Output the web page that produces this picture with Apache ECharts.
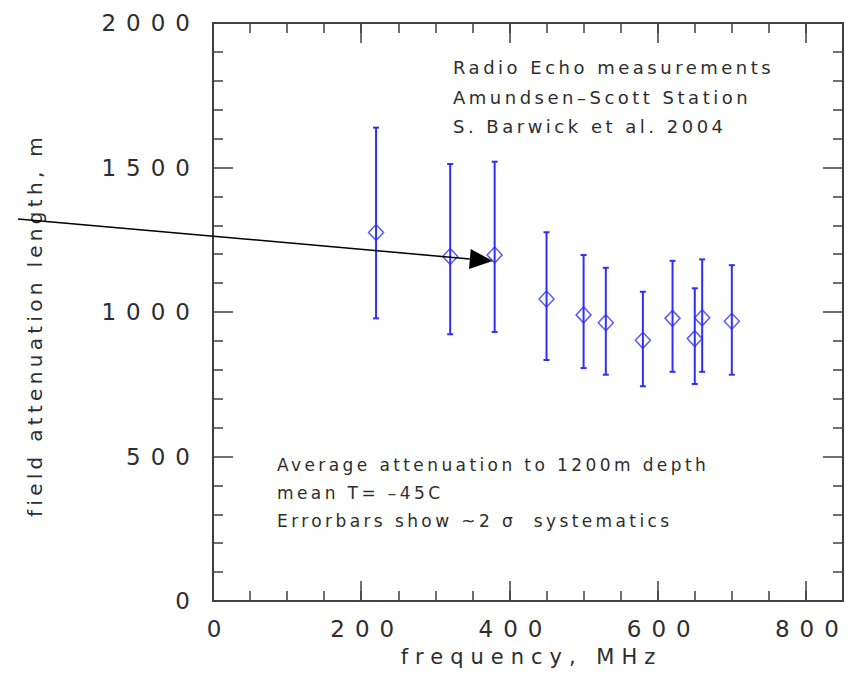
<!DOCTYPE html>
<html>
<head>
<meta charset="utf-8">
<script src="https://cdn.jsdelivr.net/npm/echarts@6/dist/echarts.min.js"></script>
<style>
  html, body { margin: 0; padding: 0; background: #fff; }
  #chart { width: 854px; height: 678px; }
  /* old postscript lettering is very wide: svg text takes css letter-spacing */
  #chart text[style*="23px"] { letter-spacing: 10px; }
  #chart text[style*="21px"] { letter-spacing: 7px; }
  #chart text[style*="20px"] { letter-spacing: 4.3px; }
  #chart text[style*="18px"] { letter-spacing: 3.5px; }
  #chart text[style*="17px"] { letter-spacing: 3.4px; }
</style>
</head>
<body>
<div id="chart"></div>
<script>
// radio echo measurements, frequency (MHz) vs field attenuation length (m)
const frequency = [220, 320, 380, 450, 500, 530, 580, 620, 650, 660, 700];
const attenuation = [1275, 1192, 1197, 1045, 990, 963, 902, 978, 908, 980, 968];
const errLow = [978, 923, 931, 834, 806, 783, 743, 793, 751, 793, 783];
const errHigh = [1638, 1512, 1520, 1276, 1197, 1153, 1070, 1177, 1082, 1182, 1162];

// arrow annotation (data units), tail off to the left of the plot
const arrowTail = [-263, 1322];
const arrowHead = [362, 1180];

const noteTop = ['Radio Echo measurements', 'Amundsen\u2013Scott Station', 'S. Barwick et al. 2004'];
const noteBottom = ['Average attenuation to 1200m depth', 'mean T= \u201345C', 'Errorbars show ~2 \u03c3  systematics'];

const BLUE = '#2f2ff6';
const AXIS = '#404040';
const TEXT = '#2e2e2e';
const FONT = 'DejaVu Sans';

const chart = echarts.init(document.getElementById('chart'), null, { renderer: 'svg' });

const frame = (extra) => Object.assign({
  type: 'value',
  splitLine: { show: false },
  axisLine: { show: true, onZero: false, lineStyle: { color: AXIS, width: 2 } },
  axisTick: { show: true, inside: true, length: 20, lineStyle: { color: AXIS, width: 1.5 } },
  axisLabel: { show: false },
}, extra);

const minorX = (position) => frame({
  position, min: 0, max: 850, interval: 50,
  axisLine: { show: false, onZero: false },
  axisTick: { show: true, inside: true, length: 10, lineStyle: { color: AXIS, width: 1.5 } },
});

const yMinor = { show: true, splitNumber: 5, length: 10, lineStyle: { color: AXIS, width: 1.5 } };

const option = {
  animation: false,
  textStyle: { fontFamily: FONT },
  grid: { left: 213, right: 11, top: 23, bottom: 77, containLabel: false, outerBoundsMode: 'none' },
  xAxis: [
    frame({
      position: 'bottom', min: 0, max: 850, interval: 200,
      name: 'frequency, MHz', nameLocation: 'middle', nameGap: 45,
      nameTextStyle: { fontSize: 21, color: TEXT, fontFamily: FONT, padding: [0, 0, 0, 7] },
      axisLabel: {
        show: true, margin: 16, fontSize: 23, color: TEXT, fontFamily: FONT,
        showMaxLabel: false, padding: [0, 0, 0, 12],
      },
    }),
    minorX('bottom'),
    frame({ position: 'top', min: 0, max: 850, interval: 200 }),
    minorX('top'),
  ],
  yAxis: [
    frame({
      position: 'left', min: 0, max: 2000, interval: 500,
      minorTick: yMinor,
      name: 'field attenuation length, m', nameLocation: 'middle', nameGap: 168,
      nameTextStyle: { fontSize: 20, color: TEXT, fontFamily: FONT, padding: [0, 26, 0, 0] },
      axisLabel: {
        show: true, margin: 13, fontSize: 23, color: TEXT, fontFamily: FONT,
        formatter: (v) => String(v),
      },
    }),
    frame({ position: 'right', min: 0, max: 2000, interval: 500, minorTick: yMinor }),
  ],
  series: [
    {
      name: 'errorbars',
      type: 'custom',
      xAxisIndex: 0,
      yAxisIndex: 0,
      data: frequency.map((f, i) => [f, errLow[i], errHigh[i]]),
      encode: { x: 0, y: [1, 2] },
      renderItem: (params, api) => {
        const x = api.value(0);
        const lo = api.coord([x, api.value(1)]);
        const hi = api.coord([x, api.value(2)]);
        const cap = 3;
        const style = { stroke: BLUE, lineWidth: 2 };
        return {
          type: 'group',
          children: [
            { type: 'line', shape: { x1: lo[0], y1: lo[1], x2: hi[0], y2: hi[1] }, style },
            { type: 'line', shape: { x1: lo[0] - cap, y1: lo[1], x2: lo[0] + cap, y2: lo[1] }, style },
            { type: 'line', shape: { x1: hi[0] - cap, y1: hi[1], x2: hi[0] + cap, y2: hi[1] }, style },
          ],
        };
      },
      z: 2,
    },
    {
      name: 'attenuation',
      type: 'scatter',
      xAxisIndex: 0,
      yAxisIndex: 0,
      data: frequency.map((f, i) => [f, attenuation[i]]),
      symbol: 'diamond',
      symbolSize: [15, 16],
      itemStyle: { color: 'rgba(255,255,255,0)', borderColor: BLUE, borderWidth: 1.5 },
      z: 3,
    },
    {
      name: 'arrow',
      type: 'custom',
      xAxisIndex: 0,
      yAxisIndex: 0,
      clip: false,
      data: [[arrowTail[0], arrowTail[1], arrowHead[0], arrowHead[1]]],
      encode: { x: [0, 2], y: [1, 3] },
      renderItem: (params, api) => {
        const p0 = api.coord([api.value(0), api.value(1)]);
        const p1 = api.coord([api.value(2), api.value(3)]);
        const dx = p1[0] - p0[0];
        const dy = p1[1] - p0[1];
        const len = Math.hypot(dx, dy);
        const ux = dx / len, uy = dy / len;
        const headLen = 23, headHalf = 10;
        const tip = [p1[0] + ux * headLen / 2, p1[1] + uy * headLen / 2];
        const base = [p1[0] - ux * headLen / 2, p1[1] - uy * headLen / 2];
        return {
          type: 'group',
          children: [
            {
              type: 'line',
              shape: { x1: p0[0], y1: p0[1], x2: base[0], y2: base[1] },
              style: { stroke: '#000', lineWidth: 1.5 },
            },
            {
              type: 'polygon',
              shape: {
                points: [
                  tip,
                  [base[0] - uy * headHalf, base[1] + ux * headHalf],
                  [base[0] + uy * headHalf, base[1] - ux * headHalf],
                ],
              },
              style: { fill: '#000' },
            },
          ],
        };
      },
      z: 4,
    },
  ],
  graphic: [
    {
      type: 'text', left: 453, top: 53,
      style: { text: noteTop.join('\n'), fontSize: 18, fontFamily: FONT, fill: TEXT, lineHeight: 29.5 },
    },
    {
      type: 'text', left: 277, top: 451,
      style: { text: noteBottom.join('\n'), fontSize: 17, fontFamily: FONT, fill: TEXT, lineHeight: 28 },
    },
  ],
};

chart.setOption(option);
</script>
</body>
</html>
